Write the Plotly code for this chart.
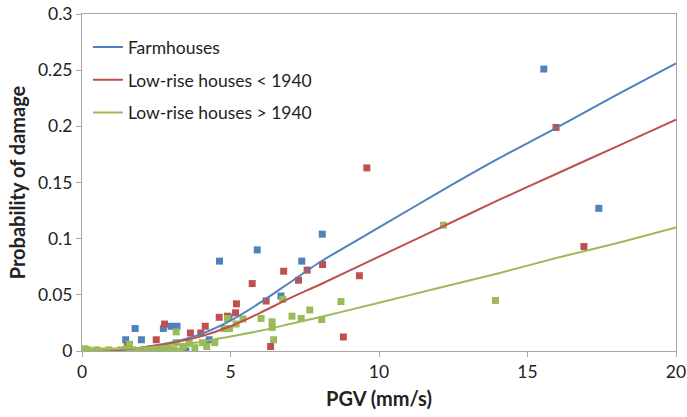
import plotly.graph_objects as go

# ---- scatter data ----
farm_x = [15.55, 17.4, 8.09, 5.9, 7.4, 4.63, 6.7, 4.95, 4.28, 3.5, 1.79, 1.47, 2.0, 2.74, 3.0, 3.2]
farm_y = [0.251, 0.127, 0.104, 0.090, 0.080, 0.080, 0.049, 0.030, 0.010, 0.0, 0.020, 0.010, 0.010, 0.020, 0.022, 0.022]

old_x = [15.96, 16.9, 9.59, 9.34, 8.8, 8.1, 7.58, 7.29, 6.79, 5.73, 6.2, 6.35, 5.2, 5.17, 4.62, 4.9,
         4.15, 4.0, 3.65, 2.78, 2.5, 2.6, 1.53]
old_y = [0.199, 0.093, 0.163, 0.067, 0.0125, 0.077, 0.072, 0.063, 0.071, 0.060, 0.0445, 0.004, 0.042, 0.034, 0.030, 0.031,
         0.022, 0.016, 0.016, 0.024, 0.010, 0.001, 0.004]

new_x = [12.17, 13.92, 8.72, 6.76, 6.03, 6.4, 6.4, 7.07, 7.38, 7.67, 8.07, 6.45, 4.78, 4.97, 5.19, 5.42, 4.9,
         4.47, 4.06, 3.61, 3.17, 3.17, 3.33,
         0.1, 0.2, 0.35, 0.5, 0.7, 0.9, 1.1, 1.3, 1.5, 1.6, 1.7, 1.9, 2.1, 2.3, 2.5, 2.7, 2.9, 3.1, 3.4, 3.8, 4.2]
new_y = [0.112, 0.045, 0.044, 0.046, 0.029, 0.026, 0.021, 0.031, 0.029, 0.0365, 0.028, 0.010, 0.020, 0.020, 0.024, 0.0285, 0.029,
         0.0074, 0.0074, 0.0068, 0.0075, 0.017, 0.0,
         0.002, 0.001, 0.0, 0.001, 0.0, 0.001, 0.0, 0.001, 0.002, 0.006, 0.001, 0.0, 0.001, 0.002, 0.0, 0.001, 0.003, 0.001, 0.004, 0.003, 0.004]

# ---- fitted trend curves ----
curve_x = [0.3, 1, 2, 3, 4, 5, 6, 7, 8, 10, 12, 14, 16, 18, 20]
farm_fit = [0.0, 0.0004, 0.003, 0.0075, 0.015, 0.027, 0.043, 0.061, 0.079, 0.110, 0.141, 0.171, 0.199, 0.228, 0.256]
old_fit = [0.0, 0.0005, 0.003, 0.007, 0.013, 0.022, 0.034, 0.047, 0.059, 0.084, 0.109, 0.134, 0.158, 0.182, 0.206]
new_fit = [0.0005, 0.0015, 0.003, 0.005, 0.008, 0.013, 0.018, 0.024, 0.030, 0.043, 0.056, 0.069, 0.083, 0.096, 0.110]

names = ["Farmhouses", "Low-rise houses < 1940", "Low-rise houses > 1940"]
colors = ["#4F81BD", "#C0504D", "#9BBB59"]

fig = go.Figure()
for xs, ys, c in [(farm_x, farm_y, colors[0]), (old_x, old_y, colors[1]), (new_x, new_y, colors[2])]:
    fig.add_trace(go.Scatter(x=xs, y=ys, mode="markers", showlegend=False,
                             marker=dict(symbol="square", size=7, color=c)))
for i, (ys, c) in enumerate([(farm_fit, colors[0]), (old_fit, colors[1]), (new_fit, colors[2])]):
    fig.add_trace(go.Scatter(x=curve_x, y=ys, mode="lines", name=names[i], legendgroup=f"g{i}",
                             line=dict(color=c, width=2, shape="spline", smoothing=0.6)))

fam = "Lato, Open Sans, sans-serif"
fig.update_layout(
    width=687, height=417,
    margin=dict(l=82, r=11, t=14, b=66, autoexpand=False),
    plot_bgcolor="white", paper_bgcolor="white",
    font=dict(family=fam, size=17.5, color="#222"),
    legend=dict(x=0.01, y=0.955, xanchor="left", yanchor="top", bgcolor="rgba(0,0,0,0)",
                font=dict(family=fam, size=17.5, color="#222"),
                tracegroupgap=7),
    xaxis=dict(range=[0, 20], tickvals=[0, 5, 10, 15, 20], showgrid=False, zeroline=False,
               showline=True, linecolor="#A6A6A6", linewidth=1, mirror=True, automargin=False,
               ticks="outside", ticklen=5, tickcolor="#A6A6A6", ticklabeloverflow="allow",
               title=dict(text="<b>PGV (mm/s)</b>", font=dict(size=20), standoff=10)),
    yaxis=dict(range=[0, 0.3], tickvals=[0, 0.05, 0.1, 0.15, 0.2, 0.25, 0.3],
               ticktext=["0", "0.05", "0.1", "0.15", "0.2", "0.25", "0.3"],
               showgrid=False, zeroline=False, automargin=False,
               showline=True, linecolor="#A6A6A6", linewidth=1, mirror=True,
               ticks="outside", ticklen=5, tickcolor="#A6A6A6", ticklabeloverflow="allow",
               title=dict(text="<b>Probability of damage</b>", font=dict(size=20), standoff=6)),
)
fig.write_html("out.html")
